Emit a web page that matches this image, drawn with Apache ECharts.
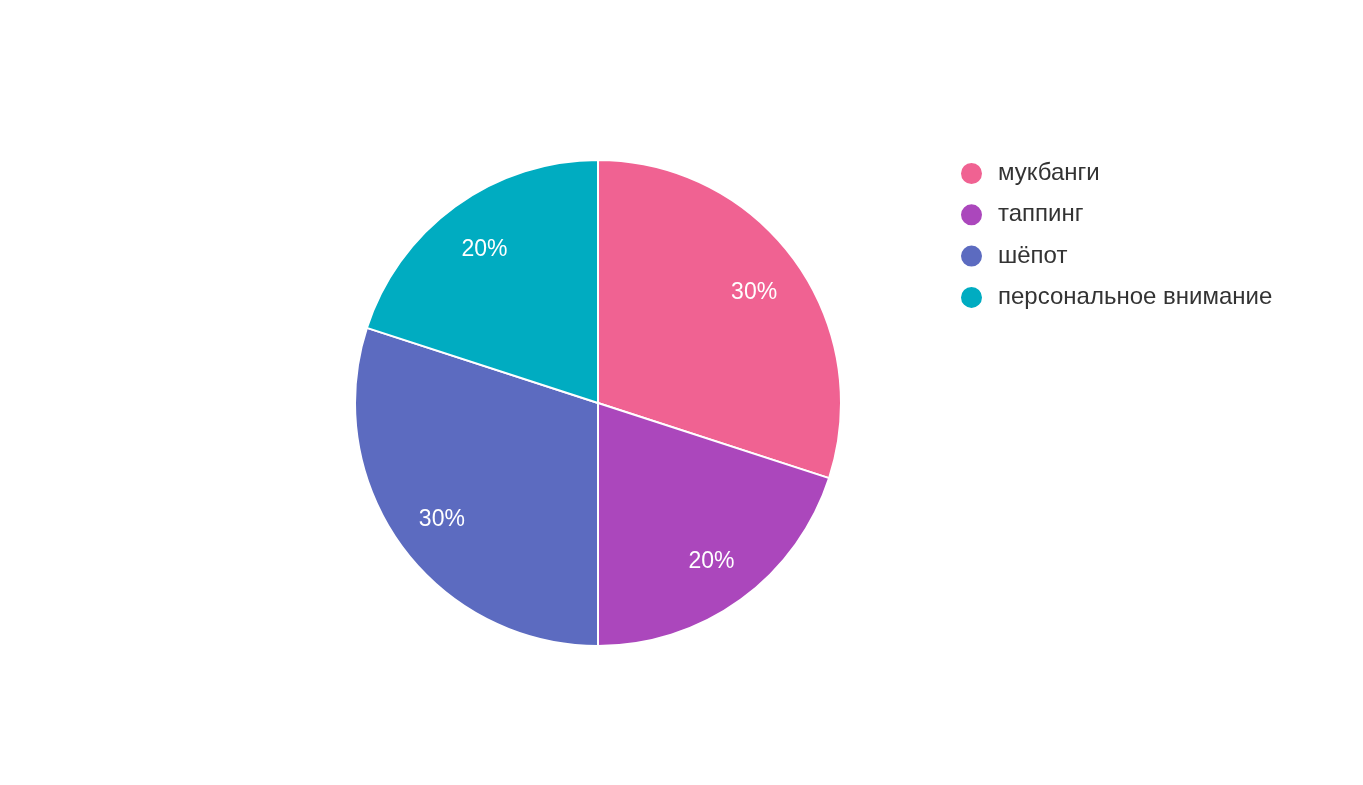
<!DOCTYPE html>
<html><head><meta charset="utf-8">
<script src="https://cdn.jsdelivr.net/npm/echarts@6/dist/echarts.min.js"></script>
<style>html,body{margin:0;padding:0;background:#fff}#c{width:1363px;height:785px}</style>
</head><body><div id="c"></div>
<script>
const categories = ['мукбанги', 'таппинг', 'шёпот', 'персональное внимание'];
const values = [30, 20, 30, 20];
const colors = ['#F06292', '#AB47BC', '#5C6BC0', '#00ACC1'];

const data = categories.map((n, i) => ({ name: n, value: values[i] }));
const chart = echarts.init(document.getElementById('c'));
chart.setOption({
  animation: false,
  color: colors,
  legend: {
    orient: 'vertical', left: 959, top: 161, padding: 0,
    icon: 'circle', itemWidth: 23, itemHeight: 23, itemGap: 16.3,
    textStyle: { fontFamily: 'Liberation Sans, Arial, sans-serif', fontSize: 24, lineHeight: 23, color: '#333', padding: [0, 0, 0, 10] },
    data: categories
  },
  series: [
    {
      type: 'pie', center: [598, 403], radius: [0, 243], startAngle: 90, clockwise: true,
      itemStyle: { borderColor: '#fff', borderWidth: 2 },
      label: { show: false }, labelLine: { show: false },
      data: data
    },
    {
      type: 'pie', center: [598, 403], radius: [137, 243], startAngle: 90, clockwise: true, silent: true,
      itemStyle: { color: 'rgba(0,0,0,0)' },
      label: { show: true, position: 'inside', formatter: '{c}%', color: '#fff', offset: [0, 3],
               fontFamily: 'Liberation Sans, Arial, sans-serif', fontSize: 23 },
      labelLine: { show: false },
      data: data
    }
  ]
});
</script></body></html>
